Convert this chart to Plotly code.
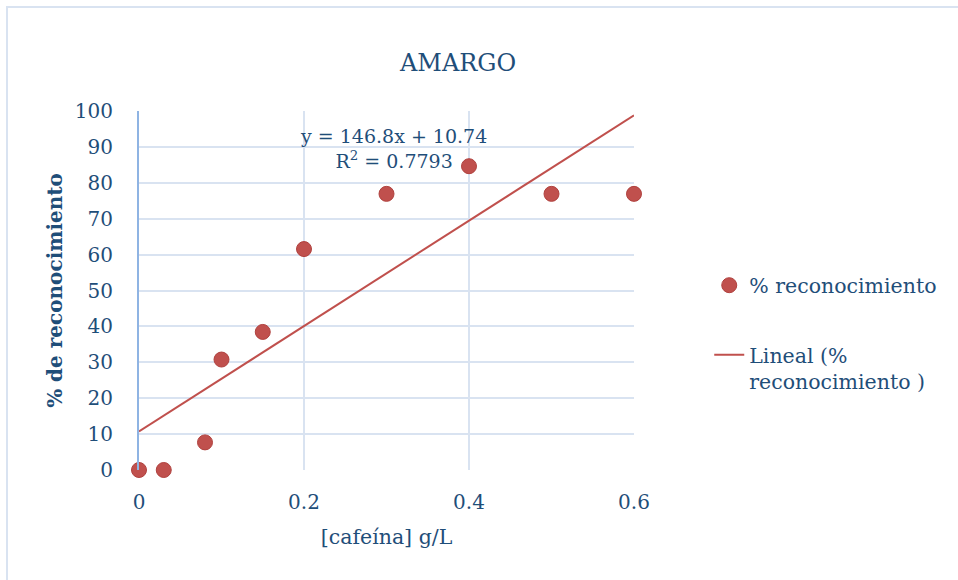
import numpy as np
import plotly.graph_objects as go

# Data
cafeina = [0, 0.03, 0.08, 0.1, 0.15, 0.2, 0.3, 0.4, 0.5, 0.6]
reconocimiento = [0, 0, 7.69, 30.77, 38.46, 61.54, 76.92, 84.62, 76.92, 76.92]
x_ticks = [0, 0.2, 0.4, 0.6]
x_tick_labels = ["0", "0.2", "0.4", "0.6"]
y_ticks = list(range(0, 101, 10))

slope, intercept = np.polyfit(cafeina, reconocimiento, 1)
trend_x = [0, 0.6]
trend_y = [intercept + slope * v for v in trend_x]

FONT = "DejaVu Serif"
TXT = "#1f4e79"
RED = "#c0504d"
GRID = "#d9e3f1"

fig = go.Figure()
fig.add_trace(go.Scatter(
    x=cafeina, y=reconocimiento, mode="markers", name="% reconocimiento",
    marker=dict(size=15, color=RED, line=dict(color="#b0413e", width=1)),
    cliponaxis=False, legendgroup="a",
))
fig.add_trace(go.Scatter(
    x=trend_x, y=trend_y, mode="lines", name="Lineal (%<br>reconocimiento )",
    line=dict(color=RED, width=2), legendgroup="b",
))

fig.update_layout(
    width=958, height=580,
    margin=dict(l=139, r=324, t=111, b=110),
    paper_bgcolor="white", plot_bgcolor="white",
    font=dict(family=FONT, size=20, color=TXT),
    showlegend=True,
    legend=dict(x=1.152, y=0.57, xanchor="left", yanchor="top",
                font=dict(family=FONT, size=20.5, color=TXT),
                tracegroupgap=40, valign="top", bgcolor="rgba(0,0,0,0)"),
    xaxis=dict(range=[0, 0.6], tickvals=x_ticks, ticktext=x_tick_labels,
               showgrid=True, gridcolor=GRID, gridwidth=1.5,
               zeroline=False, showline=False, ticks="",
               ticklabelstandoff=18,
               title=dict(text="[cafeína] g/L", standoff=16,
                          font=dict(family=FONT, size=20.5, color=TXT))),
    yaxis=dict(range=[0, 100], tickvals=y_ticks,
               showgrid=True, gridcolor=GRID, gridwidth=1.5,
               zeroline=False, showline=True, linecolor="#8fb4e3", linewidth=2,
               ticks="", ticklabelstandoff=20,
               title=dict(text="<b>% de reconocimiento</b>", standoff=7,
                          font=dict(family=FONT, size=20, color=TXT))),
    annotations=[
        dict(text="AMARGO", xref="paper", yref="paper",
             x=(457 - 139) / 495, y=(470 - 63) / 359,
             showarrow=False, font=dict(family=FONT, size=24, color=TXT),
             xanchor="center", yanchor="middle"),
        dict(text="y = 146.8x + 10.74<br>R<sup>2</sup> = 0.7793",
             xref="x", yref="y", x=0.308, y=89.5,
             showarrow=False, align="center",
             font=dict(family=FONT, size=19, color=TXT),
             xanchor="center", yanchor="middle"),
    ],
    shapes=[
        dict(type="rect", xref="paper", yref="paper",
             x0=(7 - 139) / 495, x1=(990 - 139) / 495,
             y0=(470 - 600) / 359, y1=(470 - 7) / 359,
             line=dict(color="#d9e3f1", width=2), layer="below"),
    ],
)

fig.write_html("out.html")
